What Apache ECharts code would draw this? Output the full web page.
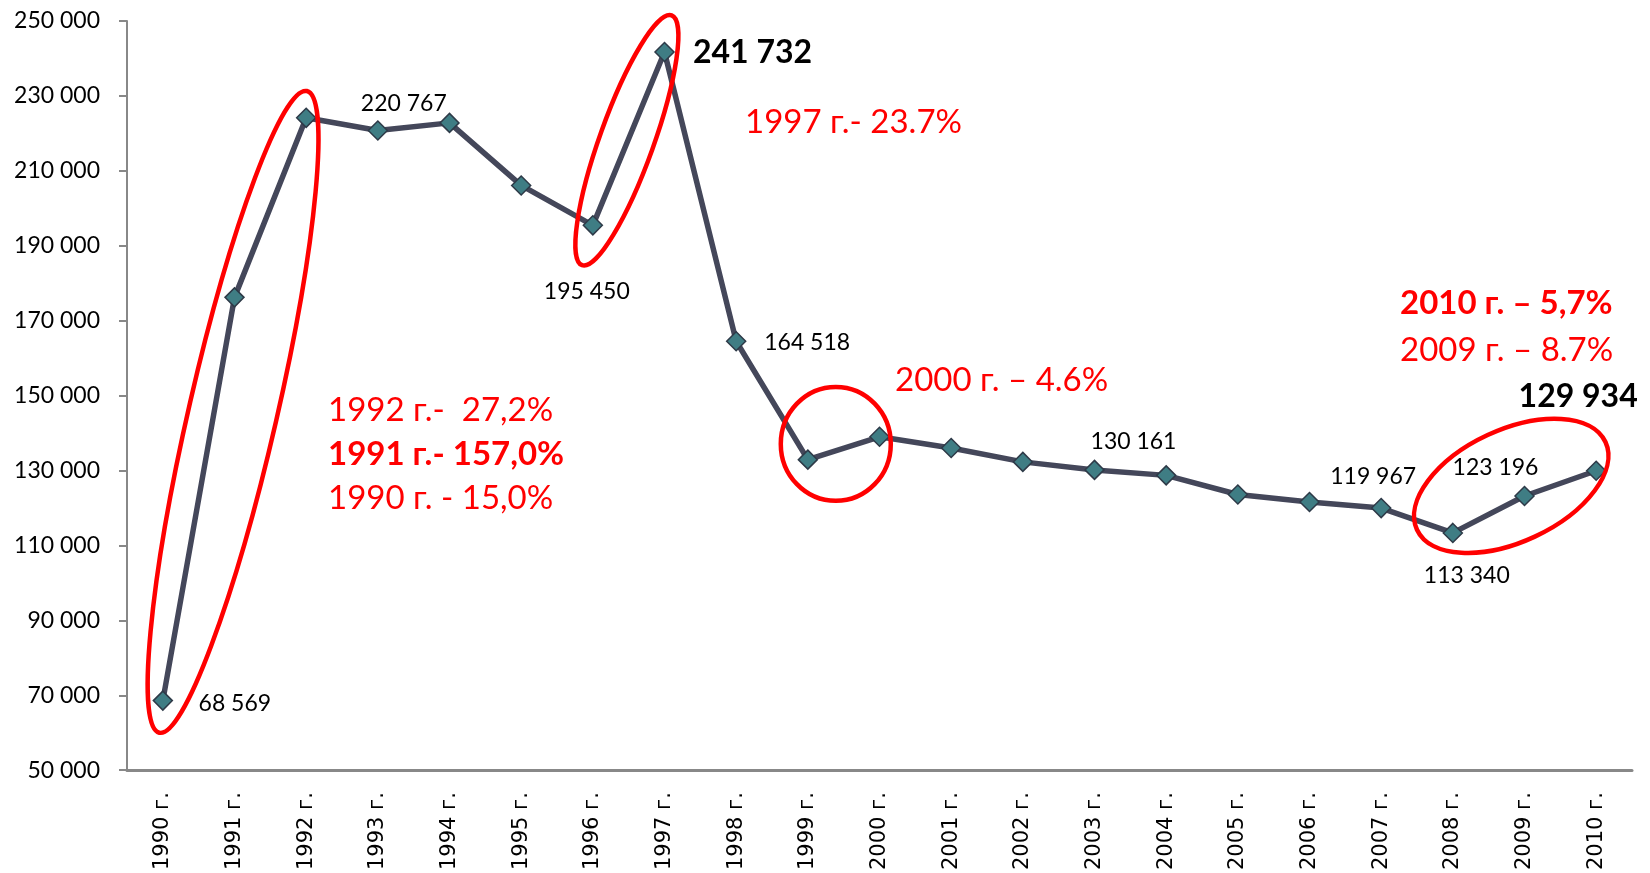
<!DOCTYPE html>
<html>
<head>
<meta charset="utf-8">
<script src="https://cdn.jsdelivr.net/npm/echarts@6/dist/echarts.min.js"></script>
<style>
  html, body { margin: 0; padding: 0; background: #fff; }
  #chart { width: 1650px; height: 873px; }
</style>
</head>
<body>
<div id="chart"></div>
<script>
  const years = ['1990 г.', '1991 г.', '1992 г.', '1993 г.', '1994 г.', '1995 г.', '1996 г.',
    '1997 г.', '1998 г.', '1999 г.', '2000 г.', '2001 г.', '2002 г.', '2003 г.', '2004 г.',
    '2005 г.', '2006 г.', '2007 г.', '2008 г.', '2009 г.', '2010 г.']
  const values = [68569, 176222, 224154, 220767, 222800, 206100, 195450,
    241732, 164518, 132900, 139000, 136000, 132300, 130161, 128700,
    123600, 121600, 119967, 113340, 123196, 129934]
  const yMin = 50000
  const yMax = 250000
  const yStep = 20000

  // which points get a value label, and where it sits relative to the point
  const labelOffsets = {
    0: [72, 3], 3: [26, -27], 6: [-6, 66], 7: [88, 1], 8: [71, 1],
    13: [39, -28], 17: [-8, -32], 18: [14, 43], 19: [-29, -28], 20: [-18, -74]
  }
  const boldLabels = [7, 20]

  // red rings: major axis ends in [category index, value], half width in px
  const rings = [
    { from: [-0.05, 60000], to: [2.01, 231300], half: 44 },
    { from: [5.85, 184800], to: [7.10, 251500], half: 27 },
    { from: [9.39, 121900], to: [9.39, 152300], half: 55 },
    { from: [17.5, 114200], to: [20.13, 137600], half: 56 }
  ]

  const notes = [
    { text: '1992 г.-  27,2%', x: 328, y: 410 },
    { text: '1991 г.- 157,0%', x: 328, y: 454, bold: true },
    { text: '1990 г. - 15,0%', x: 328, y: 498 },
    { text: '1997 г.- 23.7%', x: 745, y: 122 },
    { text: '2000 г. – 4.6%', x: 895, y: 380 },
    { text: '2010 г. – 5,7%', x: 1400, y: 303, bold: true },
    { text: '2009 г. – 8.7%', x: 1400, y: 350 }
  ]

  const spaced = v => String(v).replace(/\B(?=(\d{3})+(?!\d))/g, ' ')

  const chart = echarts.init(document.getElementById('chart'))

  const seriesData = values.map((v, i) => {
    const off = labelOffsets[i]
    if (!off) return { value: v }
    const bold = boldLabels.includes(i)
    return {
      value: v,
      label: {
        show: true,
        position: 'inside',
        offset: off,
        formatter: p => spaced(p.value),
        fontFamily: 'Lato',
        fontSize: bold ? 32 : 23,
        fontWeight: bold ? 'bold' : 'normal',
        color: '#000'
      }
    }
  })

  chart.setOption({
    animation: false,
    grid: { left: 127, right: 18, top: 21, bottom: 102 },
    xAxis: {
      type: 'category',
      data: years,
      boundaryGap: true,
      axisLine: { lineStyle: { color: '#888', width: 3 } },
      axisTick: { show: false },
      axisLabel: {
        rotate: 90,
        margin: 22,
        fontFamily: 'DejaVu Sans',
        fontSize: 21,
        color: '#000',
        interval: 0
      }
    },
    yAxis: {
      type: 'value',
      min: yMin,
      max: yMax,
      interval: yStep,
      splitLine: { show: false },
      axisLine: { show: true, lineStyle: { color: '#888', width: 2 } },
      axisTick: { show: true, length: 8, lineStyle: { color: '#888', width: 2 } },
      axisLabel: {
        margin: 27,
        fontFamily: 'Lato',
        fontSize: 23,
        color: '#000',
        formatter: spaced
      }
    },
    series: [{
      type: 'line',
      data: seriesData,
      symbol: 'diamond',
      symbolSize: 19,
      lineStyle: { color: '#44475a', width: 5.5 },
      itemStyle: { color: '#3f7d84', borderColor: '#2e3a48', borderWidth: 1.5 },
      label: { show: false },
      z: 3
    }]
  })

  // rings and notes are placed from the axes once the grid exists
  const x0 = chart.convertToPixel({ xAxisIndex: 0 }, 0)
  const step = chart.convertToPixel({ xAxisIndex: 0 }, 1) - x0
  const toPx = p => [x0 + p[0] * step, chart.convertToPixel({ yAxisIndex: 0 }, p[1])]

  const graphics = rings.map(r => {
    const a = toPx(r.from)
    const b = toPx(r.to)
    const dx = b[0] - a[0]
    const dy = b[1] - a[1]
    return {
      type: 'ellipse',
      x: (a[0] + b[0]) / 2,
      y: (a[1] + b[1]) / 2,
      rotation: Math.atan2(-dy, dx),
      shape: { cx: 0, cy: 0, rx: Math.sqrt(dx * dx + dy * dy) / 2, ry: r.half },
      style: { fill: 'none', stroke: '#ff0000', lineWidth: 4.5 },
      z: 10
    }
  })

  notes.forEach(n => {
    graphics.push({
      type: 'text',
      x: n.x,
      y: n.y,
      style: {
        text: n.text,
        fill: '#ff0000',
        font: (n.bold ? 'bold ' : '') + '33px Lato',
        verticalAlign: 'middle'
      },
      z: 10
    })
  })

  chart.setOption({ graphic: graphics })
</script>
</body>
</html>
